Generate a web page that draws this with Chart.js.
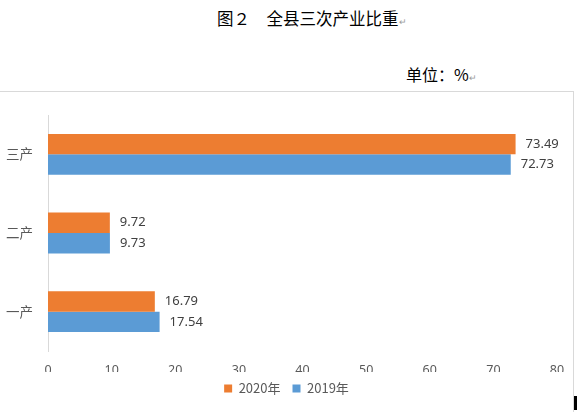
<!DOCTYPE html>
<html>
<head>
<meta charset="utf-8">
<script src="https://cdn.jsdelivr.net/npm/chart.js@4"></script>
<style>
  html, body { margin: 0; padding: 0; background: #fff; }
  body { width: 578px; height: 412px; position: relative; overflow: hidden;
         font-family: "Noto Sans CJK SC", "Noto Sans", sans-serif; }
  .title { position: absolute; left: 217px; top: 6px; font-size: 16.5px; color: #000; white-space: nowrap; line-height: 24px; }
  .unit { position: absolute; left: 406px; top: 62px; font-size: 16px; color: #000; white-space: nowrap; line-height: 24px; }
  .mark { color: #9a9a9a; font-size: 9px; }
  .frame { position: absolute; left: -2px; top: 91px; width: 576px; height: 340px; border: 1px solid #d9d9d9; box-sizing: border-box; }
  .chart-box { position: absolute; left: 0; top: 91px; width: 573px; height: 321px; }
  .bar-mark { position: absolute; left: 574px; top: 396px; width: 3px; height: 14px; background: #000; }
</style>
</head>
<body>
<div class="title">图２　全县三次产业比重<span class="mark">↵</span></div>
<div class="unit">单位：%<span class="mark">↵</span></div>
<div class="frame"></div>
<div class="chart-box"><canvas id="chart-share"></canvas></div>
<div class="bar-mark"></div>
<script>
const categories = ['三产', '二产', '一产'];
const seriesNames = ['2020年', '2019年'];
const values2020 = [73.49, 9.72, 16.79];
const values2019 = [72.73, 9.73, 17.54];
const xTicks = [0, 10, 20, 30, 40, 50, 60, 70, 80];

const colors = {
  orange: '#ED7D31',
  blue: '#5B9BD5',
  text: '#595959',
  label: '#404040',
  axis: '#d9d9d9',
};

// value labels to the right of each bar
const valueLabels = {
  id: 'valueLabels',
  afterDatasetsDraw(chart) {
    const ctx = chart.ctx;
    ctx.save();
    ctx.font = '13px "Noto Sans", sans-serif';
    ctx.fillStyle = colors.label;
    ctx.textAlign = 'left';
    ctx.textBaseline = 'middle';
    chart.data.datasets.forEach((ds, i) => {
      chart.getDatasetMeta(i).data.forEach((bar, j) => {
        ctx.fillText(ds.data[j].toFixed(2), bar.x + 10, bar.y);
      });
    });
    ctx.restore();
  },
};

// nudge the legend a little right/up, like the Word chart
const legendNudge = {
  id: 'legendNudge',
  afterLayout(chart) {
    const lg = chart.legend;
    if (!lg) return;
    lg.left += 8;
    lg.right += 8;
    lg.top -= 2;
    lg.bottom -= 2;
  },
};

const el = document.getElementById('chart-share');
new Chart(el, {
  type: 'bar',
  data: {
    labels: categories,
    datasets: [
      { label: seriesNames[0], data: values2020, backgroundColor: colors.orange, borderWidth: 0 },
      { label: seriesNames[1], data: values2019, backgroundColor: colors.blue, borderWidth: 0 },
    ],
  },
  options: {
    indexAxis: 'y',
    responsive: true,
    maintainAspectRatio: false,
    animation: false,
    categoryPercentage: 0.52,
    barPercentage: 1,
    layout: { padding: { top: 24, right: 16, bottom: 5, left: 0 } },
    scales: {
      x: {
        min: 0,
        max: 80,
        afterBuildTicks: (s) => { s.ticks = xTicks.map((v) => ({ value: v })); },
        afterFit: (s) => { s.height = 21; },
        grid: { display: false },
        border: { display: false },
        ticks: { color: colors.text, padding: 4, font: { family: '"Noto Sans", sans-serif', size: 12.5 } },
      },
      y: {
        afterFit: (s) => { s.width = 48; },
        grid: { display: false },
        border: { display: true, color: colors.axis, width: 1 },
        ticks: { color: colors.text, padding: 7, font: { family: '"Noto Sans CJK SC", sans-serif', size: 13.5 } },
      },
    },
    plugins: {
      legend: {
        position: 'bottom',
        labels: {
          color: colors.text,
          boxWidth: 8,
          boxHeight: 8,
          padding: 12,
          font: { family: '"Noto Sans CJK SC", sans-serif', size: 13 },
        },
      },
      tooltip: { enabled: false },
    },
  },
  plugins: [valueLabels, legendNudge],
});
</script>
</body>
</html>
